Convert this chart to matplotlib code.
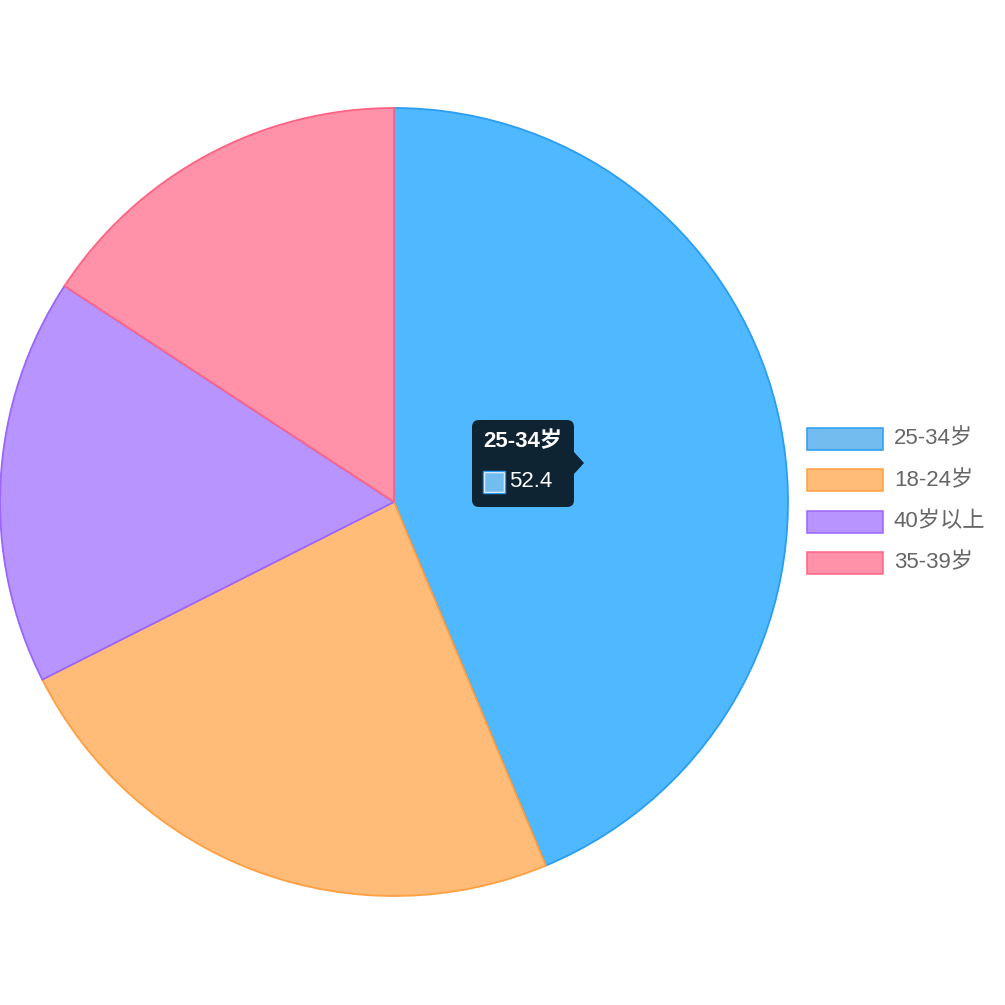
import matplotlib
matplotlib.use('Agg')
import matplotlib.pyplot as plt
from matplotlib.patches import FancyBboxPatch, Polygon, Rectangle

plt.rcParams['font.family'] = ['Liberation Sans', 'Noto Sans CJK SC', 'DejaVu Sans']

labels = ['25-34岁', '18-24岁', '40岁以上', '35-39岁']
values = [52.4, 28.6, 20.0, 18.9]
fills = ['#4FB8FF', '#FFBC79', '#B894FF', '#FF92A9']
legend_fills = ['#72BCEF', '#FFBC79', '#B894FF', '#FF92A9']
edges = ['#2A9DF4', '#FF9F40', '#9966FF', '#FF6384']
hover_idx = 0

W = 1005
fig = plt.figure(figsize=(10.05, 10.05), dpi=100)
ax = fig.add_axes([0, 0, 1, 1])

# pie, clockwise from 12 o'clock
cx, cy, r = 394, W - 502, 394
wedges, _ = ax.pie(values, center=(cx, cy), radius=r, startangle=90,
                   counterclock=False, colors=fills, frame=True,
                   wedgeprops=dict(linewidth=1.3, antialiased=True))
for w, e in zip(wedges, edges):
    w.set_edgecolor(e)

ax.set_xlim(0, W)
ax.set_ylim(0, W)
ax.set_aspect('equal')
ax.axis('off')

# legend
lx, ly0, dy = 807, W - 439, 41.3
for i, lab in enumerate(labels):
    y = ly0 - i * dy
    ax.add_patch(Rectangle((lx, y - 11), 76, 22, facecolor=legend_fills[i],
                           edgecolor=edges[i], linewidth=1.1))
    ax.text(894, y, lab, fontsize=16, color='#666666', va='center', ha='left')

# tooltip
tx0, ty0, tw, th = 472, W - 507, 102, 87
ax.add_patch(FancyBboxPatch((tx0 + 7, ty0 + 7), tw - 14, th - 14,
                            boxstyle='round,pad=7', facecolor='#0F2432',
                            edgecolor='none'))
ax.add_patch(Polygon([(tx0 + tw, W - 452), (tx0 + tw + 10, W - 463),
                      (tx0 + tw, W - 474)], closed=True,
                     facecolor='#0F2432', edgecolor='none'))
ax.text(483, W - 442, labels[hover_idx], fontsize=16, color='white',
        fontweight='bold', va='center', ha='left')
ax.add_patch(Rectangle((484, W - 492), 20, 20, facecolor=legend_fills[hover_idx],
                       edgecolor='white', linewidth=1.0))
ax.add_patch(Rectangle((483, W - 493), 22, 22, facecolor='none',
                       edgecolor=edges[hover_idx], linewidth=1.0))
ax.text(509, W - 481, str(values[hover_idx]), fontsize=16, color='white',
        va='center', ha='left')

fig.savefig('out.png', dpi=100)
